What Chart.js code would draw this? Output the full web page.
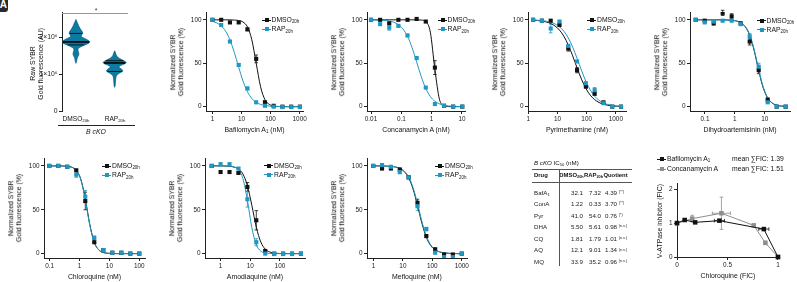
<!DOCTYPE html>
<html><head><meta charset="utf-8">
<script src="https://cdn.jsdelivr.net/npm/chart.js@4.4.1/dist/chart.umd.min.js"></script>
<style>
html,body{margin:0;padding:0;background:#fff;}
body{width:797px;height:282px;position:relative;overflow:hidden;font-family:'Liberation Sans',Arial,sans-serif;color:#111;}
canvas{position:absolute;}
.t{position:absolute;white-space:nowrap;line-height:1;}
.t sub{font-size:65%;vertical-align:baseline;position:relative;top:0.3em;}
.t sup{font-size:60%;vertical-align:baseline;position:relative;top:-0.5em;}
.v{position:absolute;white-space:nowrap;writing-mode:vertical-rl;transform:rotate(180deg);text-align:center;}
.ln{position:absolute;}
</style></head><body>
<script>
// ---------------- DATA ----------------
// Violin (raw SYBR Gold fluorescence, AU)
const violinCats = ['DMSO<sub>20h</sub>', 'RAP<sub>20h</sub>'];
const violinTicks = [0, 1e6, 2e6];
const violinTickLabels = ['0', '1×10⁶', '2×10⁶'];
const dmsoViolinY = [2.48,2.40,2.32,2.24,2.17,2.11,2.06,2.01,1.96,1.91,1.87,1.83,1.78,1.74,1.70,1.65,1.60,1.55,1.50,1.45,1.40,1.35,1.29].map(v=>v*1e6);
const dmsoViolinDensity = [0,.09,.18,.29,.41,.49,.41,.39,.64,.89,1,.89,.57,.36,.18,.14,.18,.21,.18,.11,.07,.05,0];
const dmsoViolinLines = [2.10e6, 1.87e6, 1.79e6];
const rapViolinY = [1.63,1.57,1.51,1.46,1.42,1.38,1.35,1.31,1.27,1.24,1.20,1.16,1.12,1.08,1.04,1.00,0.95,0.90,0.84,0.79,0.74,0.69,0.64].map(v=>v*1e6);
const rapViolinDensity = [0,.06,.12,.21,.36,.57,.71,.84,.68,.48,.31,.39,.54,.59,.43,.25,.12,.09,.07,.06,.05,.04,0];
const rapViolinLines = [1.36e6, 1.30e6, 1.07e6];

const pctTicks = [0, 50, 100];
const pctTickLabels = ['0', '50', '100'];

// Bafilomycin A1
const bafConc = [1,2,4,8,16,32,64,128,256,512,1024];
const bafDMSO = [100,100,97,97,89,55,5,1,0,0,0];
const bafRAP  = [100,94,75,48,21,5,1,0,-0.5,-0.5,-0.5];
const bafDMSOErr = [0,0,1,1,1.5,4.5,1.5,0,0,0,0];
const bafRAPErr  = [0,1,1,1.5,1.5,1,0,0,0,0,0];
const bafFitConc = [1,1.41,2,2.83,4,5.66,8,11.3,16,22.6,32,45.3,64,90.5,128,181,256,362,512,724,1024];
const bafFitDMSO = [100,100,100,100,99.9,99.7,99.2,97.4,91.9,77.1,50,22.9,8.1,2.6,0.8,0.2,0.1,0,0,0,0];
const bafFitRAP  = [98.2,96.4,93.0,87.0,76.9,62.5,45.4,29.4,17.2,9.4,4.9,2.6,1.3,0.7,0.3,0.2,0.1,0,0,0,0];
const bafTicks = [1,10,100,1000];
const bafTickLabels = ['1','10','100','1000'];

// Concanamycin A
const conaConc = [0.01,0.02,0.04,0.08,0.16,0.32,0.64,1.28,2.56,5.12,10.24];
const conaDMSO = [100,100,96,100,100,101,98,45,1,0,0];
const conaRAP  = [100,95,91,93,82,56,22,3,1,0,0];
const conaDMSOErr = [0,0,1,0,0,0,1,8,0,0,0];
const conaRAPErr  = [0,1,3,1,1,1,1,0,0,0,0];
const conaFitConc = [0.01,0.0141,0.02,0.0283,0.04,0.0566,0.08,0.113,0.16,0.226,0.32,0.453,0.64,0.905,1.28,1.81,2.56,3.62,5.12,7.24,10.24];
const conaFitDMSO = [100,100,100,100,100,100,100,100,100,100,100,99.7,98.0,85.7,42.9,8.5,1.2,0.1,0,0,0];
const conaFitRAP  = [99.9,99.8,99.6,99.3,98.6,97.2,94.4,89.5,81.0,68.1,51.5,34.7,21.0,11.7,6.2,3.2,1.6,0.8,0.4,0.2,0.1];
const conaTicks = [0.01,0.1,1,10];
const conaTickLabels = ['0.01','0.1','1','10'];

// Pyrimethamine
const pyrConc = [1.46,2.93,5.86,11.7,23.4,46.9,93.75,187.5,375,750,1500];
const pyrDMSO = [100,99,99,94,67,42,23,15,5,0,0];
const pyrRAP  = [100,99,90,98,70,52,27,19,4,0,0];
const pyrDMSOErr = [0,0,0,1,3,3,1,2,0,0,0];
const pyrRAPErr  = [0,0,5,1,1,1,1,3,0,0,0];
const pyrFitConc = [1.46,2.07,2.93,4.14,5.86,8.29,11.7,16.6,23.4,33.1,46.9,66.3,93.75,133,187.5,265,375,530,750,1061,1500];
const pyrFitDMSO = [99.5,99.2,98.6,97.5,95.7,92.8,88.2,81.0,71.0,58.5,44.6,31.7,21.0,13.2,8.1,4.8,2.8,1.6,0.9,0.5,0.3];
const pyrFitRAP  = [99.7,99.5,99.1,98.4,97.2,95.2,92.0,86.9,79.2,68.6,55.6,41.9,29.2,19.1,12.0,7.3,4.3,2.5,1.5,0.8,0.5];
const pyrTicks = [1,10,100,1000];
const pyrTickLabels = ['1','10','100','1000'];

// Dihydroartemisinin
const dhaConc = [0.0488,0.0977,0.195,0.39,0.78,1.56,3.125,6.25,12.5,25,50];
const dhaDMSO = [100,99,96,108,104,96,75,42,8,0,0];
const dhaRAP  = [100,97,98,99,99,95,81,46,5,0,0];
const dhaDMSOErr = [0,1,2,3,3,1,4,4,2,0,0];
const dhaRAPErr  = [0,1,1,1,1,1,3,4,1,0,0];
const dhaFitConc = [0.0488,0.069,0.0977,0.138,0.195,0.276,0.39,0.552,0.78,1.1,1.56,2.21,3.125,4.42,6.25,8.84,12.5,17.7,25,35.4,50];
const dhaFitDMSO = [100,100,100,100,100,100,100,99.8,99.5,98.7,96.8,92.1,82.2,64.4,41.4,21.7,9.8,4.1,1.6,0.7,0.3];
const dhaFitRAP  = [100,100,100,100,100,100,100,99.8,99.5,98.8,96.9,92.5,82.9,65.6,42.7,22.7,10.3,4.3,1.7,0.7,0.3];
const dhaTicks = [0.1,1,10];
const dhaTickLabels = ['0.1','1','10'];

// Chloroquine
const cqConc = [0.0977,0.195,0.39,0.78,1.56,3.125,6.25,12.5,25,50,100];
const cqDMSO = [100,100,99,95,60,13,4,1,1,0,0];
const cqRAP  = [100,100,99,90,65,18,4,1,1,0,0];
const cqDMSOErr = [0,0,0,1,10,1,0,0,0,0,0];
const cqRAPErr  = [0,0,0,3,7,2,0,0,0,0,0];
const cqFitConc = [0.0977,0.138,0.195,0.276,0.39,0.552,0.78,1.1,1.56,2.21,3.125,4.42,6.25,8.84,12.5,17.7,25,35.4,50,70.7,100];
const cqFitDMSO = [100,100,100,99.9,99.5,98.5,95.0,85.1,62.7,33.2,12.9,4.2,1.3,0.4,0.1,0,0,0,0,0,0];
const cqFitRAP  = [100,100,100,99.9,99.5,98.4,94.8,84.6,61.8,32.3,12.5,4.1,1.2,0.4,0.1,0,0,0,0,0,0];
const cqTicks = [0.1,1,10,100];
const cqTickLabels = ['0.1','1','10','100'];

// Amodiaquine
const aqConc = [0.5,1,2,4,8,16,32,64,128,256,512];
const aqDMSO = [100,93,93,92,76,38,3,0,0,0,0];
const aqRAP  = [100,102,102,97,62,13,0,-0.5,-0.5,-0.5,0];
const aqDMSOErr = [0,0,0,1,5,11,1,0,0,0,0];
const aqRAPErr  = [0,0,0,1,9,4,0,0,0,0,0];
const aqFitConc = [0.5,0.707,1,1.41,2,2.83,4,5.66,8,11.3,16,22.6,32,45.3,64,90.5,128,181,256,362,512];
const aqFitDMSO = [100,100,100,99.9,99.5,98.7,96.5,90.7,77.6,55.1,30.1,13.3,5.1,1.9,0.7,0.2,0,0,0,0,0];
const aqFitRAP  = [100,100,100,100,99.7,98.8,95.6,85.4,61.0,29.6,10.1,2.9,0.8,0.2,0,0,0,0,0,0,0];
const aqTicks = [1,10,100];
const aqTickLabels = ['1','10','100'];

// Mefloquine
const mqConc = [0.977,1.95,3.9,7.8,15.6,31.25,62.5,125,250,500,1000];
const mqDMSO = [100,97,97,96,87,58,20,5,-1,-1,0];
const mqRAP  = [100,101,99,93,87,54,28,1,-4,-4,0];
const mqDMSOErr = [0,1,1,1,1,4,1,1,0,0,0];
const mqRAPErr  = [0,1,1,2,2,5,2,1,0,0,0];
const mqFitConc = [0.977,1.38,1.95,2.76,3.9,5.52,7.8,11.05,15.6,22.1,31.25,44.2,62.5,88.4,125,177,250,354,500,707,1000];
const mqFitDMSO = [100,100,100,99.8,99.4,98.7,97.1,93.6,86.5,73.6,54.9,34.6,18.7,9.1,4.2,1.9,0.8,0.3,0.1,0,0];
const mqFitRAP  = [100,100,100,99.8,99.5,98.9,97.4,94.2,87.6,75.3,57.1,36.6,20.1,9.9,4.6,2.0,0.9,0.4,0.2,0,0];
const mqTicks = [1,10,100,1000];
const mqTickLabels = ['1','10','100','1000'];

// IC50 table
const tableDrugs = ['BafA<sub>1</sub>','ConA','Pyr','DHA','CQ','AQ','MQ'];
const tableDMSO = ['32.1','1.22','41.0','5.50','1.81','12.1','33.9'];
const tableRAP  = ['7.32','0.33','54.0','5.61','1.79','9.01','35.2'];
const tableQuot = ['4.39','3.70','0.76','0.98','1.01','1.34','0.96'];
const tableSig  = ['(**)','(**)','(*)','(n.s.)','(n.s.)','(n.s.)','(n.s.)'];

// FIC isobologram
const ficBafX = [0,0.076,0.18,0.42,0.86,1];
const ficBafY = [1.01,1.10,1.03,1.08,0.83,0];
const ficBafXErr = [0,0,0,0.05,0.05,0];
const ficBafYErr = [0,0.02,0,0.02,0.02,0];
const ficConX = [0,0.15,0.44,0.76,0.875,1];
const ficConY = [1.0,1.14,1.30,0.94,0.42,0];
const ficConXErr = [0,0,0.09,0,0,0];
const ficConYErr = [0,0.10,0.48,0.03,0.05,0];
const ficSeries = ['Bafilomycin A<sub>1</sub>','Concanamycin A'];
const ficMeans = ['1.39','1.51'];
const ficXTicks = [0,0.5,1], ficXTickLabels = ['0','0.5','1'];
const ficYTicks = [0,1,2], ficYTickLabels = ['0','1','2'];

// ---------------- STYLE / HELPERS ----------------
const FONT = "'Liberation Sans', Arial, sans-serif";
const BLACK = '#111111', BLUE = '#1f97c2', VIOLIN = '#0b7ba1', GRAY = '#8e8e8e';
Chart.defaults.font.family = FONT;
Chart.defaults.color = '#222';

function txt(html, x, y, o) {
  o = o || {};
  const d = document.createElement('div');
  d.className = 't';
  d.innerHTML = html;
  d.style.fontSize = (o.size || 7) + 'px';
  if (o.bold) d.style.fontWeight = 'bold';
  if (o.italic) d.style.fontStyle = 'italic';
  if (o.lh) d.style.lineHeight = o.lh + 'px';
  d.style.color = o.color || '#111';
  d.style.left = x + 'px'; d.style.top = y + 'px';
  const a = o.align || 'left';
  const tx = a === 'center' ? '-50%' : a === 'right' ? '-100%' : '0';
  d.style.transform = 'translate(' + tx + ',-50%)';
  document.body.appendChild(d);
  return d;
}
// vertical (bottom-to-top) text centred at (cx, cy)
function vtxt(html, cx, cy, size, lh) {
  const d = document.createElement('div');
  d.className = 'v';
  d.innerHTML = html;
  d.style.fontSize = size + 'px';
  d.style.lineHeight = lh + 'px';
  d.style.color = '#111';
  document.body.appendChild(d);
  const w = d.offsetWidth, h = d.offsetHeight;
  d.style.left = Math.round(cx - w / 2) + 'px';
  d.style.top = Math.round(cy - h / 2) + 'px';
  return d;
}
function rect(x, y, w, h, color) {
  const d = document.createElement('div');
  d.className = 'ln';
  d.style.left = x + 'px'; d.style.top = y + 'px';
  d.style.width = w + 'px'; d.style.height = h + 'px';
  d.style.background = color;
  document.body.appendChild(d);
}
function legendItem(x, y, color, html) {
  rect(x - 5, y - 0.5, 9, 1, color);
  rect(x - 2, y - 2, 4, 4, color);
  txt(html, x + 5, y, {size: 6.8});
}

function place(area, pad) {
  const c = document.createElement('canvas');
  const w = area[2] - area[0] + pad.l + pad.r, h = area[3] - area[1] + pad.t + pad.b;
  c.width = w; c.height = h;
  c.style.left = (area[0] - pad.l) + 'px'; c.style.top = (area[1] - pad.t) + 'px';
  c.style.width = w + 'px'; c.style.height = h + 'px';
  document.body.appendChild(c);
  return c;
}
function zeroPad(s) { s.paddingLeft = 0; s.paddingRight = 0; s.paddingTop = 0; s.paddingBottom = 0; }
function axis(type, min, max, ticks, labels, fit, size) {
  return {
    type, min, max,
    afterBuildTicks: s => { s.ticks = ticks.map(v => ({value: v})); },
    afterFit: fit,
    ticks: {autoSkip: false, maxRotation: 0, minRotation: 0, padding: 1.5,
      font: {size: size || 6.4, family: FONT}, color: '#1a1a1a',
      callback: (v, i) => labels[i]},
    grid: {display: true, drawOnChartArea: false, drawTicks: true, tickLength: 3, color: '#222', lineWidth: 1},
    border: {display: true, color: '#222', width: 1}
  };
}

const errPlugin = {
  id: 'errbars',
  beforeDatasetsDraw(chart) {
    const ctx = chart.ctx, xs = chart.scales.x, ys = chart.scales.y;
    chart.data.datasets.forEach(ds => {
      if (!ds.errY && !ds.errX) return;
      ctx.save();
      ctx.strokeStyle = ds.borderColor; ctx.lineWidth = 0.8;
      const seg = (a, b, c, d) => { ctx.beginPath(); ctx.moveTo(a, b); ctx.lineTo(c, d); ctx.stroke(); };
      ds.data.forEach((p, j) => {
        const px = xs.getPixelForValue(p.x), py = ys.getPixelForValue(p.y);
        const ey = ds.errY ? ds.errY[j] : 0, ex = ds.errX ? ds.errX[j] : 0;
        if (ey > 0) {
          const a = ys.getPixelForValue(p.y + ey), b = ys.getPixelForValue(p.y - ey);
          seg(px, a, px, b); seg(px - 1.8, a, px + 1.8, a); seg(px - 1.8, b, px + 1.8, b);
        }
        if (ex > 0) {
          const a = xs.getPixelForValue(p.x - ex), b = xs.getPixelForValue(p.x + ex);
          seg(a, py, b, py); seg(a, py - 1.8, a, py + 1.8); seg(b, py - 1.8, b, py + 1.8);
        }
      });
      ctx.restore();
    });
  }
};

const pts = (xs, ys) => xs.map((x, i) => ({x, y: ys[i]}));

function doseChart(p) {
  const pad = {l: 40, t: 6, r: 14, b: 22};
  const c = place(p.area, pad);
  const fitXf = s => { s.height = pad.b; zeroPad(s); };
  const fitYf = s => { s.width = pad.l; zeroPad(s); };
  new Chart(c, {
    type: 'scatter',
    data: {datasets: [
      {data: pts(p.fitConc, p.fitD), showLine: true, borderColor: BLACK, borderWidth: 1, pointRadius: 0, cubicInterpolationMode: 'monotone', order: 3},
      {data: pts(p.fitConc, p.fitR), showLine: true, borderColor: BLUE, borderWidth: 1, pointRadius: 0, cubicInterpolationMode: 'monotone', order: 2},
      {data: pts(p.conc, p.dmso), errY: p.dmsoErr, showLine: false, pointStyle: 'rect', pointRadius: 2.9, backgroundColor: BLACK, borderColor: BLACK, borderWidth: 0, order: 1},
      {data: pts(p.conc, p.rap), errY: p.rapErr, showLine: false, pointStyle: 'rect', pointRadius: 2.9, backgroundColor: BLUE, borderColor: BLUE, borderWidth: 0, order: 0}
    ]},
    options: {
      responsive: false, animation: false, devicePixelRatio: 1,
      layout: {padding: {left: 0, top: pad.t, right: pad.r, bottom: 0}, autoPadding: false},
      plugins: {legend: {display: false}, tooltip: {enabled: false}},
      scales: {
        x: axis('logarithmic', p.xmin, p.xmax, p.ticks, p.tickLabels, fitXf),
        y: axis('linear', -5, 109, pctTicks, pctTickLabels, fitYf)
      }
    },
    plugins: [errPlugin]
  });
  const [L, T, R, B] = p.area;
  vtxt('Normalized SYBR<br>Gold fluorescence (%)', L - 28.5, (T + B) / 2, 6.9, 8.6);
  txt(p.title, (L + R) / 2, B + 19, {size: 6.9, align: 'center'});
  legendItem(p.leg[0], p.leg[1], BLACK, 'DMSO<sub>20h</sub>');
  legendItem(p.leg[0], p.leg[1] + 9.3, BLUE, 'RAP<sub>20h</sub>');
}

// ---------------- PANEL A label ----------------
(function(){
  const d = document.createElement('div');
  d.className = 't';
  d.style.cssText = 'left:-6px;top:-3px;width:13px;height:15px;background:#2a2a2a;border-radius:3px;color:#fff;font-size:10px;font-weight:bold;text-align:right;line-height:16px;padding-right:1px;';
  d.textContent = 'A';
  document.body.appendChild(d);
})();

// ---------------- VIOLIN ----------------
(function(){
  const area = [62, 12, 134, 111];
  const pad = {l: 40, t: 6, r: 6, b: 8};
  const c = place(area, pad);
  const maxHalf = 0.36;
  const centers = [0, 1];
  function poly(vals, dens, cx) {
    const right = vals.map((v, i) => ({x: cx + dens[i] * maxHalf, y: v}));
    const left = vals.map((v, i) => ({x: cx - dens[i] * maxHalf, y: v})).reverse();
    return right.concat(left);
  }
  function widthAt(vals, dens, v) {
    for (let i = 0; i < vals.length - 1; i++) {
      if (v <= vals[i] && v >= vals[i + 1]) {
        const f = (vals[i] - v) / (vals[i] - vals[i + 1]);
        return (dens[i] + f * (dens[i + 1] - dens[i])) * maxHalf;
      }
    }
    return 0;
  }
  const ds = [
    {data: poly(dmsoViolinY, dmsoViolinDensity, centers[0]), showLine: true, fill: 'shape', backgroundColor: VIOLIN, borderColor: '#07587a', borderWidth: 0.7, pointRadius: 0, tension: 0.25, order: 5},
    {data: poly(rapViolinY, rapViolinDensity, centers[1]), showLine: true, fill: 'shape', backgroundColor: VIOLIN, borderColor: '#07587a', borderWidth: 0.7, pointRadius: 0, tension: 0.25, order: 5}
  ];
  [[dmsoViolinLines, dmsoViolinY, dmsoViolinDensity, centers[0]], [rapViolinLines, rapViolinY, rapViolinDensity, centers[1]]].forEach(([lines, vals, dens, cx]) => {
    lines.forEach((v, k) => {
      const w = widthAt(vals, dens, v) * 0.95;
      ds.push({data: [{x: cx - w, y: v}, {x: cx + w, y: v}], showLine: true, borderColor: '#000', borderWidth: k === 1 ? 1.6 : 0.8, pointRadius: 0, order: 1});
    });
  });
  new Chart(c, {
    type: 'scatter',
    data: {datasets: ds},
    options: {
      responsive: false, animation: false, devicePixelRatio: 1,
      layout: {padding: {left: 0, top: pad.t, right: pad.r, bottom: 0}, autoPadding: false},
      plugins: {legend: {display: false}, tooltip: {enabled: false}},
      scales: {
        x: {type: 'linear', min: -0.36, max: 1.5, ticks: {display: false}, grid: {display: false}, border: {display: false},
            afterFit: s => { s.height = pad.b; zeroPad(s); }},
        y: axis('linear', 0, 2.68e6, violinTicks, violinTickLabels, s => { s.width = pad.l; zeroPad(s); }, 6.8)
      }
    }
  });
  vtxt('Raw SYBR<br>Gold fluorescence (AU)', 37, 64, 6.9, 8);
  txt(violinCats[0], 76, 118.5, {size: 6.6, align: 'center'});
  txt(violinCats[1], 115, 118.5, {size: 6.6, align: 'center'});
  rect(58, 125, 77, 0.8, '#222');
  txt('<i>B cKO</i>', 96, 132, {size: 6.9, align: 'center'});
  rect(62, 12.5, 66, 0.8, '#999');
  txt('*', 96, 9.5, {size: 7, align: 'center', color: '#444'});
})();

// ---------------- DOSE RESPONSE PANELS ----------------
doseChart({area: [206, 12, 303, 111], xmin: 0.639, xmax: 1306, ticks: bafTicks, tickLabels: bafTickLabels,
  conc: bafConc, dmso: bafDMSO, rap: bafRAP, dmsoErr: bafDMSOErr, rapErr: bafRAPErr,
  fitConc: bafFitConc, fitD: bafFitDMSO, fitR: bafFitRAP, title: 'Bafilomycin A<sub>1</sub> (nM)', leg: [266.5, 20]});
doseChart({area: [367, 12, 465, 111], xmin: 0.00738, xmax: 12.6, ticks: conaTicks, tickLabels: conaTickLabels,
  conc: conaConc, dmso: conaDMSO, rap: conaRAP, dmsoErr: conaDMSOErr, rapErr: conaRAPErr,
  fitConc: conaFitConc, fitD: conaFitDMSO, fitR: conaFitRAP, title: 'Concanamycin A (nM)', leg: [442.5, 20]});
doseChart({area: [528, 12, 626, 111], xmin: 0.977, xmax: 2224, ticks: pyrTicks, tickLabels: pyrTickLabels,
  conc: pyrConc, dmso: pyrDMSO, rap: pyrRAP, dmsoErr: pyrDMSOErr, rapErr: pyrRAPErr,
  fitConc: pyrFitConc, fitD: pyrFitDMSO, fitR: pyrFitRAP, title: 'Pyrimethamine (nM)', leg: [592, 20]});
doseChart({area: [690, 12, 790, 111], xmin: 0.0315, xmax: 69.7, ticks: dhaTicks, tickLabels: dhaTickLabels,
  conc: dhaConc, dmso: dhaDMSO, rap: dhaRAP, dmsoErr: dhaDMSOErr, rapErr: dhaRAPErr,
  fitConc: dhaFitConc, fitD: dhaFitDMSO, fitR: dhaFitRAP, title: 'Dihydroartemisinin (nM)', leg: [761.5, 20.5]});
doseChart({area: [44, 158, 145, 258], xmin: 0.065, xmax: 155, ticks: cqTicks, tickLabels: cqTickLabels,
  conc: cqConc, dmso: cqDMSO, rap: cqRAP, dmsoErr: cqDMSOErr, rapErr: cqRAPErr,
  fitConc: cqFitConc, fitD: cqFitDMSO, fitR: cqFitRAP, title: 'Chloroquine (nM)', leg: [107, 166]});
doseChart({area: [205, 158, 305, 258], xmin: 0.298, xmax: 701, ticks: aqTicks, tickLabels: aqTickLabels,
  conc: aqConc, dmso: aqDMSO, rap: aqRAP, dmsoErr: aqDMSOErr, rapErr: aqRAPErr,
  fitConc: aqFitConc, fitD: aqFitDMSO, fitR: aqFitRAP, title: 'Amodiaquine (nM)', leg: [269, 165.5]});
doseChart({area: [367, 158, 467, 258], xmin: 0.627, xmax: 1510, ticks: mqTicks, tickLabels: mqTickLabels,
  conc: mqConc, dmso: mqDMSO, rap: mqRAP, dmsoErr: mqDMSOErr, rapErr: mqRAPErr,
  fitConc: mqFitConc, fitD: mqFitDMSO, fitR: mqFitRAP, title: 'Mefloquine (nM)', leg: [440, 166]});

// ---------------- IC50 TABLE ----------------
(function(){
  const fs = 6.2, fh = 5.9;
  txt('<i>B cKO</i> IC<sub>50</sub> (nM)', 534, 163, {size: 6.2});
  rect(532, 169, 100, 0.8, '#555');
  txt('Drug', 534, 175.5, {size: fh, bold: true});
  txt('DMSO<sub>20h</sub>', 571.5, 175.5, {size: fh, bold: true, align: 'center'});
  txt('RAP<sub>20h</sub>', 593.5, 175.5, {size: fh, bold: true, align: 'center'});
  txt('Quotient', 615.5, 175.5, {size: fh, bold: true, align: 'center'});
  rect(532, 181.5, 100, 0.8, '#555');
  rect(558.5, 169, 0.8, 97, '#555');
  tableDrugs.forEach((d, i) => {
    const y = 192.7 + i * 11.55;
    txt(d, 534, y, {size: fs, color: '#222'});
    txt(tableDMSO[i], 583, y, {size: fs, align: 'right', color: '#222'});
    txt(tableRAP[i], 601, y, {size: fs, align: 'right', color: '#222'});
    txt(tableQuot[i] + ' <sup>' + tableSig[i] + '</sup>', 605, y, {size: fs, color: '#222'});
  });
})();

// ---------------- FIC ISOBOLOGRAM ----------------
(function(){
  const area = [677, 183, 779, 257];
  const pad = {l: 30, t: 6, r: 10, b: 22};
  const c = place(area, pad);
  new Chart(c, {
    type: 'scatter',
    data: {datasets: [
      {data: pts(ficBafX, ficBafY), errX: ficBafXErr, errY: ficBafYErr, showLine: true, borderColor: BLACK, backgroundColor: BLACK, borderWidth: 1, pointStyle: 'rect', pointRadius: 3.2, pointBorderWidth: 0, order: 0},
      {data: pts(ficConX, ficConY), errX: ficConXErr, errY: ficConYErr, showLine: true, borderColor: GRAY, backgroundColor: GRAY, borderWidth: 1, pointStyle: 'rect', pointRadius: 3.2, pointBorderWidth: 0, order: 1}
    ]},
    options: {
      responsive: false, animation: false, devicePixelRatio: 1, clip: false,
      layout: {padding: {left: 0, top: pad.t, right: pad.r, bottom: 0}, autoPadding: false},
      plugins: {legend: {display: false}, tooltip: {enabled: false}},
      scales: {
        x: axis('linear', 0, 1.01, ficXTicks, ficXTickLabels, s => { s.height = pad.b; zeroPad(s); }),
        y: axis('linear', 0, 2.2, ficYTicks, ficYTickLabels, s => { s.width = pad.l; zeroPad(s); })
      }
    },
    plugins: [errPlugin]
  });
  vtxt('V-ATPase inhibitor (FIC)', 660, 221, 6.9, 8);
  txt('Chloroquine (FIC)', 728, 276, {size: 6.9, align: 'center'});
  [BLACK, GRAY].forEach((col, i) => {
    const y = 159 + i * 10;
    legendItem(662, y, col, ficSeries[i]);
    txt('mean ∑FIC: ' + ficMeans[i], 732, y, {size: 6.8});
  });
})();
</script>
</body></html>
